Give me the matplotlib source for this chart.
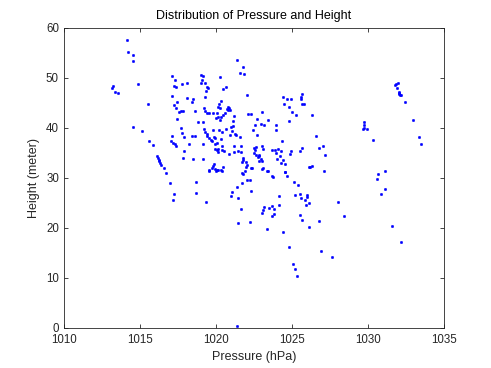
import matplotlib
matplotlib.use("Agg")
import matplotlib.pyplot as plt

plt.rcParams['font.family'] = ['Liberation Sans', 'DejaVu Sans']

# pressure (hPa) / height (m), grouped by region
p_left = [1013.17, 1013.25, 1013.36, 1013.58, 1014.13, 1014.24, 1014.57, 1014.55,
          1014.86, 1014.57, 1015.16, 1015.53, 1015.60, 1015.88, 1016.14, 1016.19,
          1016.24, 1016.28, 1016.33, 1016.39, 1016.56, 1016.73, 1017.0, 1017.22, 1017.15]
h_left = [48.0, 48.4, 47.2, 47.0, 57.5, 55.2, 54.6, 53.3,
          48.8, 40.2, 39.4, 44.7, 37.3, 36.6, 34.3, 34.0,
          33.6, 33.3, 33.0, 32.6, 31.9, 31.0, 29.0, 26.8, 25.5]

p_b = [1017.09, 1017.33, 1018.07, 1017.77, 1017.24, 1017.37, 1017.11, 1018.11,
       1017.42, 1017.22, 1017.35, 1017.59, 1017.70, 1017.85, 1017.42, 1017.68,
       1017.77, 1017.92, 1017.11, 1017.07, 1017.20, 1017.29, 1017.37, 1018.21,
       1017.90, 1017.85]
h_b = [50.4, 49.5, 49.0, 48.8, 48.3, 48.2, 46.4, 46.0,
       45.1, 44.6, 44.0, 43.2, 43.3, 43.4, 41.8, 39.9,
       38.9, 38.1, 38.4, 37.3, 37.0, 36.7, 36.4, 36.8,
       35.4, 33.9]

p_c = [1019.01, 1019.15, 1020.28, 1019.06, 1019.0, 1019.26, 1019.39, 1019.45,
       1019.32, 1020.64, 1020.46, 1018.51, 1018.40, 1019.30, 1020.35, 1020.22,
       1020.13, 1020.28, 1020.76, 1020.85, 1020.92, 1020.70, 1020.80, 1019.23,
       1019.30, 1019.39, 1019.54, 1018.64, 1019.83, 1020.07, 1020.15, 1020.0,
       1020.33, 1020.48, 1020.59, 1020.26, 1021.16, 1021.10, 1018.84, 1019.17,
       1021.10, 1020.68, 1020.98, 1021.05, 1020.92, 1019.23, 1019.30, 1019.39,
       1019.78, 1020.2, 1020.41, 1021.25, 1021.29, 1018.42, 1018.64, 1019.43,
       1019.56, 1019.65, 1019.74, 1019.85, 1019.93, 1020.33, 1021.60, 1019.15,
       1019.91, 1020.09, 1020.39, 1021.62, 1021.2]
h_c = [50.6, 50.4, 50.2, 49.6, 49.0, 49.0, 48.2, 48.0,
       47.4, 48.1, 47.8, 45.7, 45.2, 46.1, 45.4, 44.7,
       44.2, 43.9, 44.2, 44.0, 43.6, 43.7, 43.5, 43.9,
       43.4, 43.0, 42.9, 43.4, 43.0, 42.9, 42.2, 42.0,
       42.2, 42.5, 43.0, 41.5, 42.4, 41.3, 41.2, 41.2,
       40.4, 39.8, 40.1, 39.3, 38.5, 39.7, 39.1, 38.8,
       39.5, 39.5, 39.2, 38.8, 38.5, 38.4, 38.4, 38.3,
       38.0, 37.6, 37.3, 38.1, 38.0, 37.8, 38.2, 36.8,
       36.8, 36.9, 36.4, 36.4, 36.4]

p_d = [1019.93, 1020.05, 1020.15, 1020.10, 1020.40, 1020.50, 1020.83, 1021.20,
       1021.45, 1021.62, 1018.49, 1019.17, 1019.84, 1019.78, 1019.72, 1019.55,
       1019.9, 1020.05, 1020.15, 1020.33, 1020.45, 1020.42, 1019.98, 1019.52,
       1018.71, 1018.69, 1019.34]
h_d = [35.8, 35.5, 35.7, 35.2, 35.6, 35.3, 34.8, 35.1,
       35.4, 35.2, 33.8, 33.8, 32.8, 32.4, 32.0, 31.6,
       31.7, 31.6, 31.5, 31.6, 32.2, 31.4, 31.4, 31.3,
       29.2, 26.9, 25.1]

p_e = [1021.40, 1021.75, 1021.60, 1021.82, 1022.04, 1022.10, 1022.32, 1022.71,
       1022.56, 1022.93, 1022.45, 1022.69, 1022.5, 1022.55, 1022.65, 1023.0,
       1023.1, 1022.6, 1022.8, 1022.75, 1022.5, 1021.8, 1021.78, 1021.7,
       1021.95, 1022.05, 1022.3, 1022.0, 1022.35, 1021.7, 1021.78, 1021.9,
       1022.02, 1022.21, 1021.71, 1021.36, 1021.05, 1020.96, 1021.45, 1022.29,
       1021.62, 1021.47, 1022.21, 1021.36]
h_e = [53.6, 52.2, 51.0, 50.7, 46.6, 42.8, 42.8, 41.8,
       40.6, 40.7, 39.6, 38.6, 35.9, 35.5, 36.1, 36.3,
       35.7, 34.6, 34.6, 34.2, 34.9, 34.0, 33.5, 33.1,
       33.1, 32.6, 31.9, 32.2, 31.9, 31.0, 30.8, 31.4,
       29.6, 29.6, 29.0, 28.1, 27.2, 26.4, 26.0, 27.4,
       23.7, 21.0, 21.2, 0.4]

p_f = [1023.04, 1023.44, 1023.15, 1023.94, 1023.92, 1024.34, 1022.85, 1022.95,
       1023.0, 1022.85, 1023.1, 1023.05, 1023.4, 1023.7, 1023.85, 1024.1,
       1023.95, 1024.25, 1024.2, 1024.4, 1024.3, 1024.5, 1024.0, 1024.5,
       1024.88, 1024.92, 1023.33, 1023.66, 1023.73, 1024.53, 1024.66, 1025.10,
       1025.39, 1024.16, 1023.17, 1023.11, 1023.02, 1023.50, 1023.66, 1023.79,
       1023.79, 1023.66, 1024.16, 1023.33, 1024.40, 1024.77, 1025.06, 1025.17,
       1025.34]
h_f = [43.2, 41.6, 40.6, 40.6, 39.6, 37.4, 34.4, 33.8,
       33.3, 33.3, 32.0, 31.7, 31.3, 35.6, 35.6, 35.7,
       35.0, 35.4, 34.3, 33.5, 32.9, 32.8, 33.7, 31.1,
       34.7, 35.4, 31.3, 30.3, 30.2, 31.2, 30.4, 29.1,
       28.6, 26.4, 24.1, 23.5, 23.0, 24.0, 24.3, 23.8,
       22.8, 22.3, 24.6, 19.7, 19.2, 16.1, 12.8, 11.7,
       10.4]

p_g = [1024.38, 1024.66, 1024.91, 1025.58, 1025.65, 1025.6, 1024.47, 1024.77,
       1025.67, 1025.78, 1024.97, 1025.24, 1024.80, 1025.5, 1025.67, 1026.11]
h_g = [46.2, 45.8, 45.7, 46.1, 46.8, 45.8, 44.8, 44.1,
       44.7, 44.8, 43.2, 42.6, 41.4, 35.4, 36.0, 32.2]

p_h = [1026.29, 1026.59, 1026.79, 1027.05, 1027.18, 1026.18, 1026.33, 1027.12,
       1025.19, 1025.54, 1025.56, 1025.96, 1025.98, 1025.87, 1025.91, 1026.11,
       1028.01, 1025.54, 1025.67, 1026.77, 1026.13, 1028.43, 1026.92, 1027.62]
h_h = [42.6, 38.4, 36.0, 36.4, 34.6, 32.2, 32.3, 31.4,
       26.5, 26.7, 26.0, 26.6, 26.2, 25.6, 24.6, 25.0,
       25.1, 22.6, 21.5, 21.4, 20.2, 22.3, 15.4, 14.1]

p_right = [1029.74, 1029.74, 1029.74, 1029.90, 1029.68, 1030.34, 1030.62, 1031.12,
           1030.56, 1031.10, 1030.82, 1031.58, 1032.18, 1031.78, 1031.94, 1031.83,
           1031.87, 1032.0, 1032.05, 1032.1, 1032.02, 1032.12, 1032.42, 1032.96,
           1033.32, 1033.47]
h_right = [41.2, 40.6, 40.0, 39.8, 39.8, 37.5, 30.7, 31.3,
           29.8, 27.8, 26.7, 20.3, 17.1, 48.5, 49.0, 48.7,
           48.0, 47.2, 46.8, 46.5, 46.9, 46.6, 45.2, 41.6,
           38.2, 36.7]

pressure = p_left + p_b + p_c + p_d + p_e + p_f + p_g + p_h + p_right
height = h_left + h_b + h_c + h_d + h_e + h_f + h_g + h_h + h_right

x_ticks = [1010, 1015, 1020, 1025, 1030, 1035]
y_ticks = [0, 10, 20, 30, 40, 50, 60]

fig = plt.figure(figsize=(4.91, 3.68), dpi=100)
ax = fig.add_axes([0.13, 0.11, 0.775, 0.815])

ax.plot(pressure, height, linestyle='none', marker='o', markersize=1.8,
        markerfacecolor=(0, 0, 1), markeredgecolor=(0, 0, 1), markeredgewidth=0.3)

ax.set_xlim(1010, 1035)
ax.set_ylim(0, 60)
ax.set_xticks(x_ticks)
ax.set_yticks(y_ticks)

axc = (0.15, 0.15, 0.15)
for s in ax.spines.values():
    s.set_color(axc)
    s.set_linewidth(0.6)
ax.tick_params(direction='in', top=True, right=True, length=3, width=0.6,
               color=axc, labelcolor=axc, labelsize=8.3)
ax.tick_params(axis='x', pad=5)
ax.tick_params(axis='y', pad=3.5)

ax.set_xlabel('Pressure (hPa)', fontsize=9, color=axc, labelpad=3)
ax.set_ylabel('Height (meter)', fontsize=9, color=axc, labelpad=4)
ax.set_title('Distribution of Pressure and Height', fontsize=9, color='black', pad=6)

fig.savefig('out.png', dpi=100)
